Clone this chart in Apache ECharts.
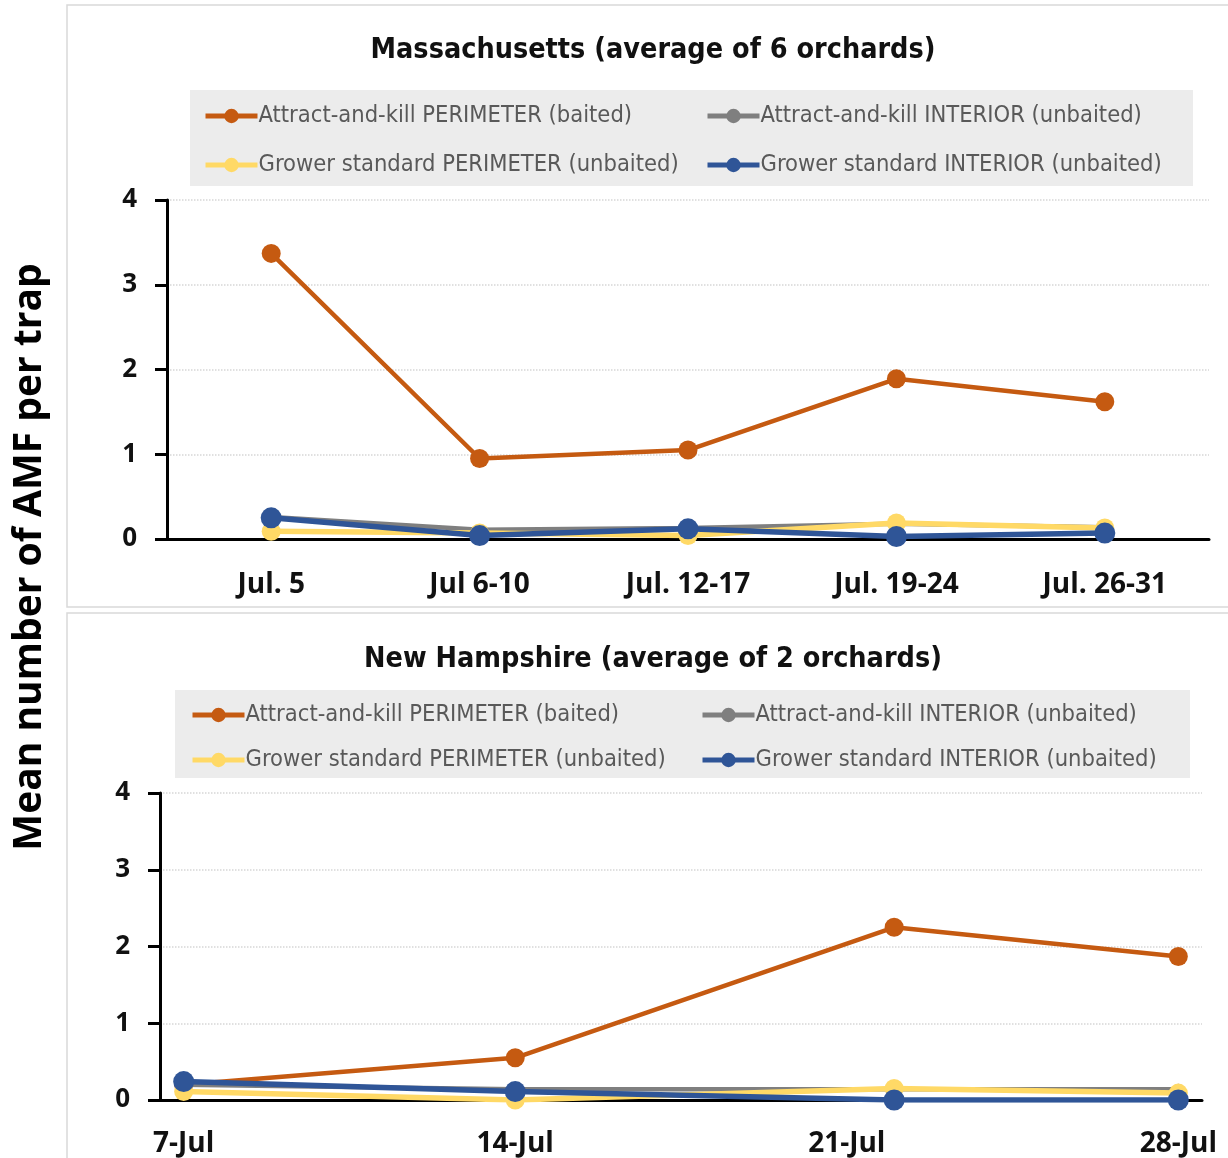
<!DOCTYPE html>
<html><head><meta charset="utf-8">
<script src="https://cdn.jsdelivr.net/npm/echarts@6/dist/echarts.min.js"></script>
<style>html,body{margin:0;padding:0;background:#fff}#c{width:1228px;height:1158px}</style>
</head><body><div id="c"></div>
<script>
// ---- data ----
const seriesNames = ['Attract-and-kill PERIMETER (baited)','Attract-and-kill INTERIOR (unbaited)','Grower standard PERIMETER (unbaited)','Grower standard INTERIOR (unbaited)'];
const maCategories = ['Jul. 5','Jul 6-10','Jul. 12-17','Jul. 19-24','Jul. 26-31'];
const maAKPerimeter = [3.37, 0.95, 1.05, 1.89, 1.62];
const maAKInterior  = [0.26, 0.11, 0.13, 0.18, 0.14];
const maGSPerimeter = [0.09, 0.07, 0.04, 0.19, 0.13];
const maGSInterior  = [0.25, 0.04, 0.12, 0.03, 0.07];
const nhDays = [7, 14, 22, 28];           // day of July
const nhTickDays = [7, 14, 21, 28];
const nhAKPerimeter = [0.20, 0.55, 2.25, 1.87];
const nhAKInterior  = [0.20, 0.14, 0.14, 0.14];
const nhGSPerimeter = [0.11, 0.00, 0.15, 0.09];
const nhGSInterior  = [0.24, 0.11, 0.00, 0.00];
const titles = ['Massachusetts (average of 6 orchards)', 'New Hampshire (average of 2 orchards)'];
const yAxisTitle = 'Mean number of AMF per trap';

// ---- styles ----
const colors = ['#C55A11', '#7F7F7F', '#FFD966', '#2F5597'];
const symSizes = [19, 11, 19, 21];
const lineW = [4.5, 4.5, 5.5, 5.5];
const F = "'Segoe UI', 'Open Sans', 'Noto Sans', sans-serif";
const FL = "'Liberation Sans Narrow', 'DejaVu Sans Condensed', sans-serif";

const chart = echarts.init(document.getElementById('c'));

function pair(xs, ys){ return xs.map((x,i)=>[x, ys[i]]); }
const maData = [maAKPerimeter, maAKInterior, maGSPerimeter, maGSInterior];
const nhData = [nhAKPerimeter, nhAKInterior, nhGSPerimeter, nhGSInterior];

const series = [];
seriesNames.forEach((n,i)=>{
  series.push({name:n, type:'line', xAxisIndex:0, yAxisIndex:0, data:maData[i],
    symbol:'circle', symbolSize:symSizes[i], lineStyle:{width:lineW[i], color:colors[i]},
    itemStyle:{color:colors[i]}, z:2+i, animation:false});
});
seriesNames.forEach((n,i)=>{
  series.push({name:n, type:'line', xAxisIndex:1, yAxisIndex:1, data:pair(nhDays, nhData[i]),
    symbol:'circle', symbolSize:symSizes[i], lineStyle:{width:lineW[i], color:colors[i]},
    itemStyle:{color:colors[i]}, z:2+i, animation:false});
});

const yAxisCommon = {type:'value', min:0, max:4, interval:1,
  axisLine:{show:true, lineStyle:{color:'#000', width:3}},
  axisTick:{show:true, length:12, lineStyle:{color:'#000', width:3}},
  axisLabel:{color:'#111', fontFamily:F, fontWeight:'bold', fontSize:26, margin:30},
  splitLine:{show:true, lineStyle:{color:'#d6d6d6', type:'dotted', width:1.5}}};

// legends: one per item for exact placement
const legendPos = [
  [{l:203,t:104},{l:705,t:104},{l:203,t:153},{l:705,t:153}],
  [{l:190,t:703},{l:700,t:703},{l:190,t:748},{l:700,t:748}]
];
const legends = [];
legendPos.forEach((pp)=>{
  pp.forEach((p,i)=>{
    legends.push({data:[seriesNames[i]], left:p.l, top:p.t, padding:0, itemWidth:52, itemHeight:18,
      itemGap:0, selectedMode:false,
      lineStyle:{width:5},
      textStyle:{color:'#595959', fontFamily:FL, fontSize:23.5, padding:[0,0,0,-4]}});
  });
});

chart.setOption({
  animation:false,
  color: colors,
  title:[
    {text:titles[0], top:31, textStyle:{fontFamily:FL, fontWeight:'bold', fontSize:28.5, color:'#111'}},
    {text:titles[1], top:640, textStyle:{fontFamily:FL, fontWeight:'bold', fontSize:28.5, color:'#111'}}
  ].map((t)=>Object.assign(t,{left: 648, textAlign:'center'})),
  legend: legends,
  graphic:[
    {type:'rect', shape:{x:67, y:5, width:1170, height:602}, style:{fill:'none', stroke:'#d9d9d9', lineWidth:1.5}, z:-10},
    {type:'rect', shape:{x:67, y:613, width:1170, height:560}, style:{fill:'none', stroke:'#d9d9d9', lineWidth:1.5}, z:-10},
    {type:'rect', shape:{x:190, y:90, width:1003, height:96}, style:{fill:'#ececec'}, z:-5},
    {type:'rect', shape:{x:175, y:690, width:1015, height:88}, style:{fill:'#ececec'}, z:-5},
    {type:'text', x:30, y:557, rotation:Math.PI/2,
      style:{text:yAxisTitle, fontFamily:F, fontWeight:'bold', fontSize:39, fill:'#000', textAlign:'center', textVerticalAlign:'middle'}}
  ],
  grid:[
    {left:167, top:200, width:1042, height:339},
    {left:160, top:793, width:1042, height:309}
  ],
  xAxis:[
    {type:'category', gridIndex:0, data:maCategories, boundaryGap:true,
      axisLine:{lineStyle:{color:'#000', width:3}}, axisTick:{show:false},
      axisLabel:{color:'#111', fontFamily:F, fontWeight:'bold', fontSize:28, margin:32}},
    {type:'value', gridIndex:1, min:6.5, max:28.5,
      axisLine:{onZero:false, lineStyle:{color:'#000', width:3}}, axisTick:{show:false},
      splitLine:{show:false},
      axisLabel:{customValues:nhTickDays, formatter:(v)=>v+'-Jul', color:'#111', fontFamily:F, fontWeight:'bold', fontSize:28, margin:30}}
  ],
  yAxis:[
    Object.assign({gridIndex:0}, yAxisCommon),
    Object.assign({gridIndex:1}, JSON.parse(JSON.stringify(yAxisCommon)))
  ],
  series: series
});
</script></body></html>
